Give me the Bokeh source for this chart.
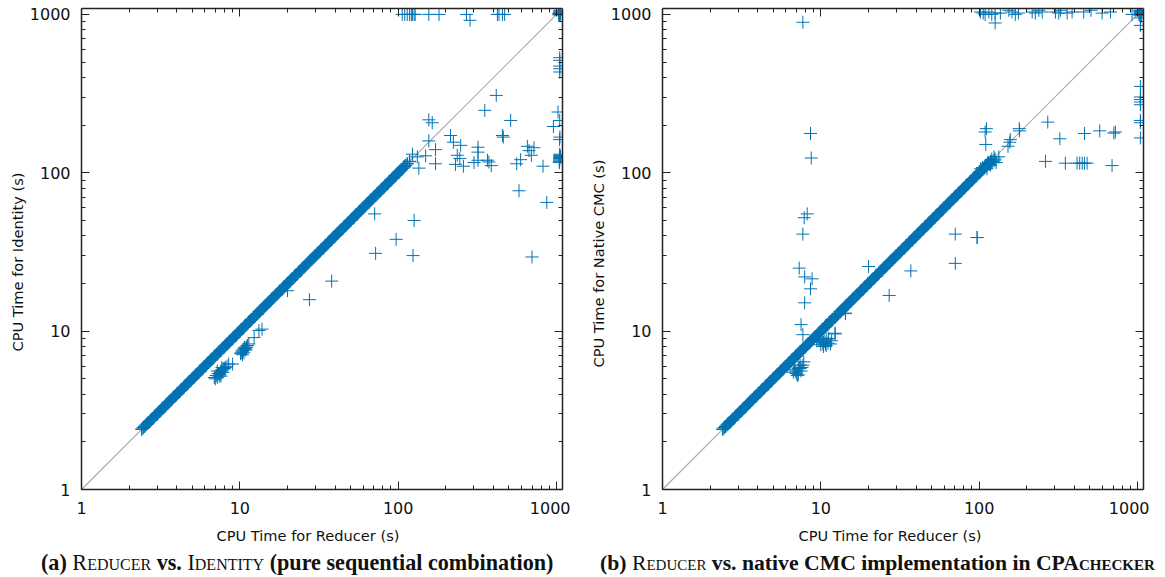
from bokeh.plotting import figure
from bokeh.models import Range1d, LogAxis, FixedTicker, NumeralTickFormatter, Div, Title
from bokeh.layouts import row, column
from bokeh.embed import file_html
from bokeh.resources import INLINE

# Runs lying on the diagonal (both CPU times equal)
diag_values = [2.40,2.45,2.50,2.55,2.60,2.65,2.70,2.76,2.81,2.87,2.93,2.99,3.05,3.11,3.17,3.23,3.30,3.36,3.43,3.50,
 3.57,3.64,3.71,3.79,3.86,3.94,4.02,4.10,4.18,4.27,4.35,4.44,4.53,4.62,4.71,4.81,4.90,5.00,5.10,5.20,5.31,5.41,5.52,
 5.63,5.74,5.86,5.98,6.10,6.22,6.34,6.47,6.60,6.73,6.87,7.00,7.14,7.29,7.43,7.58,7.73,7.89,8.05,8.21,8.37,8.54,8.71,
 8.88,9.06,9.24,9.43,9.61,9.81,10.0,10.2,10.4,10.6,10.8,11.0,11.3,11.5,11.7,11.9,12.2,12.4,12.7,12.9,13.2,13.4,13.7,
 14.0,14.2,14.5,14.8,15.1,15.4,15.7,16.0,16.3,16.7,17.0,17.3,17.7,18.0,18.4,18.8,19.1,19.5,19.9,20.3,20.7,21.1,21.5,
 22.0,22.4,22.8,23.3,23.8,24.2,24.7,25.2,25.7,26.2,26.8,27.3,27.8,28.4,29.0,29.5,30.1,30.7,31.3,32.0,32.6,33.3,33.9,
 34.6,35.3,36.0,36.7,37.5,38.2,39.0,39.7,40.5,41.3,42.2,43.0,43.9,44.7,45.6,46.5,47.5,48.4,49.4,50.4,51.4,52.4,53.5,
 54.5,55.6,56.7,57.9,59.0,60.2,61.4,62.6,63.9,65.2,66.5,67.8,69.2,70.5,72.0,73.4,74.9,76.4,77.9,79.5,81.0,82.7,84.3,
 86.0,87.7,89.5,91.2,93.1,95.0,96.8,98.8,100.8,102.8,104.8,107.0,109.0,111.0,114.0,118.0]

# Left panel outliers: Reducer vs. Identity
left_x = [106,110,114,118,121,123,126,128,156,181,270,284,423,433,455,470,
 1047,1047,1047,1047,1047,1021,955,1047,1050,1045,1047,1050,1044,1047,1052,
 156,164,352,416,513,156,172,214,223,248,455,461,149,172,135,236,245,230,258,301,319,319,319,366,374,387,
 560,593,654,670,720,693,821,579,867,126,97,124,700,132,123,
 71,72,38,27.5,20,13.8,13.2,12.3,11.4,11.1,10.6,10.4,10.1,10.9,9.0,8.5,8.1,7.7,7.4,7.1,6.9,7.55,7.9,
 1035,1040,1045,1050,1055,1060,1030,1048,1042,
 10.3,10.5,10.7,10.9,11.0,11.2,10.2,10.4,10.6,10.8,
 7.2,7.3,7.5,7.6,7.8,8.0,8.3,7.0,7.4,7.7,7.2,7.6,
 1040,1044,1050,1054,1047,1042]
left_y = [1000,1000,1000,1000,1000,1000,1000,1000,1000,1000,1000,918,1000,1000,1000,1000,
 533,513,472,454,433,242,196,214,168,162,129,126,123,120,126,
 216,207,248,308,214,159,140,172,156,149,172,168,128,114,107,129,123,113,110,116,145,135,120,120,117,111,
 114,121,147,138,144,129,110,77,65,50,38,30,29.4,126,131,
 55,31,20.7,15.8,18,10.3,10.1,9.1,8.3,8.1,7.6,7.4,7.2,7.7,6.2,6.2,5.9,5.7,5.4,5.25,5.1,5.5,5.8,
 1010,1020,1030,1040,1000,1015,1005,1060,990,
 7.5,7.7,7.9,7.6,7.9,8.1,7.3,7.1,7.3,7.8,
 5.1,5.4,5.3,5.6,5.5,5.8,6.0,5.0,5.2,5.9,5.6,5.2,
 118,122,125,128,131,116]

# Right panel outliers: Reducer vs. native CMC
right_x = [102,106,109,115,120,126,136,154,161,169,177,216,226,238,250,303,318,326,359,386,457,508,597,674,923,126,
 1042,1042,1042,1042,1042,1042,1042,1042,1042,
 271,323,462,577,724,708,262,350,415,431,447,462,480,690,97,111,109,110,179,180,157,156,152,133,109,115,120,126,102,
 7.7,8.6,8.7,8.2,7.85,7.7,7.3,7.9,8.8,8.6,7.9,7.5,7.7,
 10.4,12.3,11.2,11.7,10.7,9.9,10.4,9.4,11.5,14.3,7.2,7.8,6.9,7.1,7.6,7.4,6.7,
 70.6,70.6,97,37,27,20,14.3,12.3,1020,1035,1050,1060,1030,1045,1055,
 10.0,10.2,10.6,10.9,11.1,9.7,10.3,10.8,
 7.0,7.3,7.5,7.2,7.7,6.8,7.4,
 105,110,113,118,122,125,128,112,116,120,124,
 1038,1044,1048,1040,1052,1036,1046,1042]
right_y = [1036,1020,1000,1036,1000,1020,1020,1062,1036,1000,1020,1036,1020,1062,1036,1036,1020,1062,1020,1036,1036,1062,1020,1036,1000,883,
 853,351,301,290,280,269,214,207,166,
 209,164,177,184,181,178,118,115,115,115,115,115,115,111,39,190,181,151,190,184,162,156,147,126,111,116,116,122,106,
 892,177,124,55,52,41,25,22,21.4,18.5,15.1,11,9.5,
 8.5,9.6,9.0,8.7,8.3,8.65,8.0,8.7,8.3,12.9,5.8,6.4,5.6,5.25,5.9,6.1,5.5,
 41,26.8,39,24,16.8,25.6,13,9.7,1000,1020,1040,1060,1050,1010,980,
 8.2,8.9,8.6,8.9,8.4,8.9,8.3,8.1,
 5.4,5.9,5.6,5.3,6.1,5.7,5.8,
 108,110,115,112,118,120,116,106,113,122,126,
 1000,1010,1030,1060,1020,990,950,1050]

major_ticks = [1, 10, 100, 1000]
minor_ticks = [2,3,4,5,6,7,8,9,20,30,40,50,60,70,80,90,200,300,400,500,600,700,800,900]
axis_limits = (1, 1090)
guide = [1, 1050]
MARK = "#0072B2"
AX = "#222222"
FONT = "DejaVu Sans"


def style_axis(ax):
    ax.ticker = FixedTicker(ticks=major_ticks, minor_ticks=minor_ticks)
    ax.major_tick_in = 8
    ax.major_tick_out = 0
    ax.minor_tick_in = 4
    ax.minor_tick_out = 0
    ax.major_tick_line_color = AX
    ax.minor_tick_line_color = AX
    ax.axis_line_color = AX
    ax.axis_line_width = 1.5


def mirror():
    ax = LogAxis()
    style_axis(ax)
    ax.major_label_text_font_size = "1px"
    ax.major_label_text_color = None
    ax.major_label_standoff = 0
    ax.formatter = NumeralTickFormatter(format="0")
    return ax


def axis_title(text, offset, standoff):
    return Title(text=text, align="left", offset=offset, text_font=FONT, text_font_size="14.6px",
                 text_font_style="normal", text_color="#111111", standoff=standoff)


def panel(xs, ys, xlabel, ylabel, left, right, xl_off, yl_off):
    p = figure(output_backend="svg", toolbar_location=None,
               x_axis_type="log", y_axis_type="log",
               x_range=Range1d(*axis_limits), y_range=Range1d(*axis_limits),
               frame_width=481, frame_height=481,
               min_border_left=left, min_border_right=right, min_border_top=8, min_border_bottom=62)
    p.grid.visible = False
    p.outline_line_color = None
    p.background_fill_color = "white"
    for ax in (p.xaxis[0], p.yaxis[0]):
        style_axis(ax)
        ax.formatter = NumeralTickFormatter(format="0")
        ax.major_label_text_font = FONT
        ax.major_label_text_font_size = "16px"
        ax.major_label_text_color = "#111111"
    p.xaxis[0].major_label_standoff = 12
    p.yaxis[0].major_label_standoff = 11
    p.add_layout(mirror(), "right")
    p.add_layout(mirror(), "above")
    p.add_layout(axis_title(xlabel, xl_off, 17), "below")
    p.add_layout(axis_title(ylabel, yl_off, 2), "left")
    p.line(guide, guide, line_color="#aaaaaa", line_width=1.2)
    p.scatter(diag_values, diag_values, marker="cross", size=13, line_color=MARK, line_width=1.5, fill_color=None)
    p.scatter(xs, ys, marker="cross", size=13, line_color=MARK, line_width=1, fill_color=None)
    return p


p1 = panel(left_x, left_y, "CPU Time for Reducer (s)", "CPU Time for Identity (s)", 81, 8, 135, 138)
p2 = panel(right_x, right_y, "CPU Time for Reducer (s)", "CPU Time for Native CMC (s)", 92, 6, 136, 122)

SC = '<span style="font-variant:small-caps;font-weight:normal">%s</span>'
base = {"font-family": "Liberation Serif", "font-weight": "bold",
        "white-space": "nowrap", "color": "#111111", "line-height": "20px"}
d1 = Div(text="(a) " + SC % "Reducer" + " vs. " + SC % "Identity" + " (pure sequential combination)",
         styles={**base, "font-size": "22.15px"}, width=530, height=20, margin=(1, 0, 0, 41))
d2 = Div(text="(b) " + SC % "Reducer" + ' vs. native CMC implementation in <span style="font-variant:small-caps">CPAchecker</span>',
         styles={**base, "font-size": "21.7px"}, width=560, height=20, margin=(1, 0, 0, 29))

page = column(row(p1, p2, spacing=0), row(d1, d2, spacing=0), spacing=0)
open("out.html", "w").write(file_html(page, INLINE))
